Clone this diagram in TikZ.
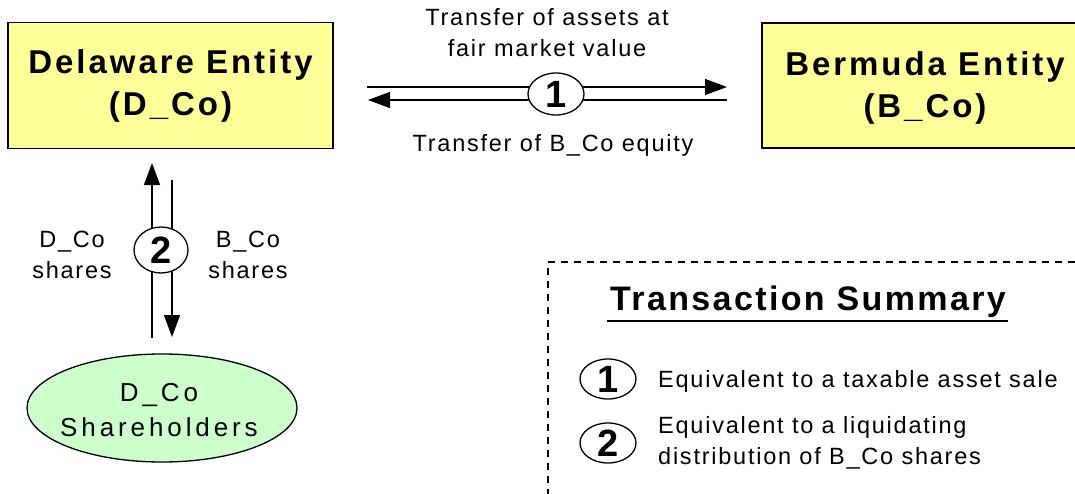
\documentclass[tikz,border=0pt]{standalone}
\usepackage{fontspec}
\setmainfont{Liberation Sans}[LetterSpace=7.5]
\newfontfamily\wideshfont{Liberation Sans}[LetterSpace=15]
\newfontfamily\titlefont{Liberation Sans}[LetterSpace=7]
\newfontfamily\entfont{Liberation Sans}[LetterSpace=9]
\newfontfamily\digitfont{Liberation Sans}
\usetikzlibrary{arrows.meta,shapes.geometric}
\definecolor{boxyellow}{HTML}{FFFF99}
\definecolor{ellgreen}{HTML}{CCFFCC}
\tikzset{
  entity/.style={draw=black,line width=1.6pt,fill=boxyellow,font=\entfont\fontsize{33}{42}\selectfont\bfseries,align=center},
  numcirc/.style={draw=black,line width=1.3pt,fill=white,ellipse,inner sep=0pt,minimum width=56pt,minimum height=42pt,font=\digitfont\fontsize{38}{40}\selectfont\bfseries},
  flow/.style={line width=1.3pt,-{Triangle[length=22pt,width=16pt]}},
  lbl/.style={font=\fontsize{23.5}{31}\selectfont,align=center,inner sep=0pt},
}
\begin{document}
\begin{tikzpicture}[x=1pt,y=-1pt]
\useasboundingbox (0,0) rectangle (1075,493);
\clip (0,0) rectangle (1075,493);
% entities
\node[entity,minimum width=325pt,minimum height=126pt] (d) at (170.5,85.5) {Delaware Entity\\(D\_Co)};
\draw[line width=1.6pt,fill=boxyellow] (762,23) rectangle (1090,148);
\node[font=\entfont\fontsize{33}{42}\selectfont\bfseries,align=center] (b) at (925,88) {Bermuda Entity\\(B\_Co)};
% transfer 1
\coordinate (t1a) at (367,87);
\coordinate (t1b) at (727,87);
\coordinate (t2a) at (727,100);
\coordinate (t2b) at (368,100);
\draw[flow] (t1a) -- (t1b);
\draw[flow] (t2a) -- (t2b);
\node[numcirc] (c1) at (556,94) {1};
\node[lbl] (l1) at (547,33) {Transfer of assets at\\fair market value};
\node[lbl] (l2) at (553,145) {Transfer of B\_Co equity};
% shareholders
\node[draw=black,line width=1.3pt,fill=ellgreen,ellipse,minimum width=270pt,minimum height=108pt,inner sep=0pt] (sh) at (162,408) {};
\node[font=\wideshfont\fontsize{26}{35}\selectfont,align=center,inner sep=0pt] (shtext) at (159,410) {D\_Co\\Shareholders};
\coordinate (v1a) at (152,338);
\coordinate (v1b) at (152,163);
\coordinate (v2a) at (172,180);
\coordinate (v2b) at (172,337);
\draw[flow] (v1a) -- (v1b);
\draw[flow] (v2a) -- (v2b);
\node[numcirc,minimum width=54pt,minimum height=46pt] (c2) at (161,250) {2};
\node[lbl] (ld) at (72,255) {D\_Co\\shares};
\node[lbl] (lb) at (248,255) {B\_Co\\shares};
% summary
\draw[line width=1.3pt,dash pattern=on 7pt off 6pt] (548,496) -- (548,262) -- (1080,262);
\node[font=\titlefont\fontsize{34}{36}\selectfont\bfseries,inner sep=0pt] (ts) at (808,302) {Transaction Summary};
\draw[line width=1.6pt] (607,321) -- (1008,321);
\node[numcirc,minimum width=56pt,minimum height=40pt] (s1) at (608,379) {1};
\node[numcirc,minimum width=56pt,minimum height=40pt] (s2) at (608,443) {2};
\node[lbl,anchor=west,align=left] (e1) at (658,381) {Equivalent to a taxable asset sale};
\node[lbl,anchor=west,align=left] (e2) at (658,443) {Equivalent to a liquidating\\distribution of B\_Co shares};
\end{tikzpicture}
\end{document}
